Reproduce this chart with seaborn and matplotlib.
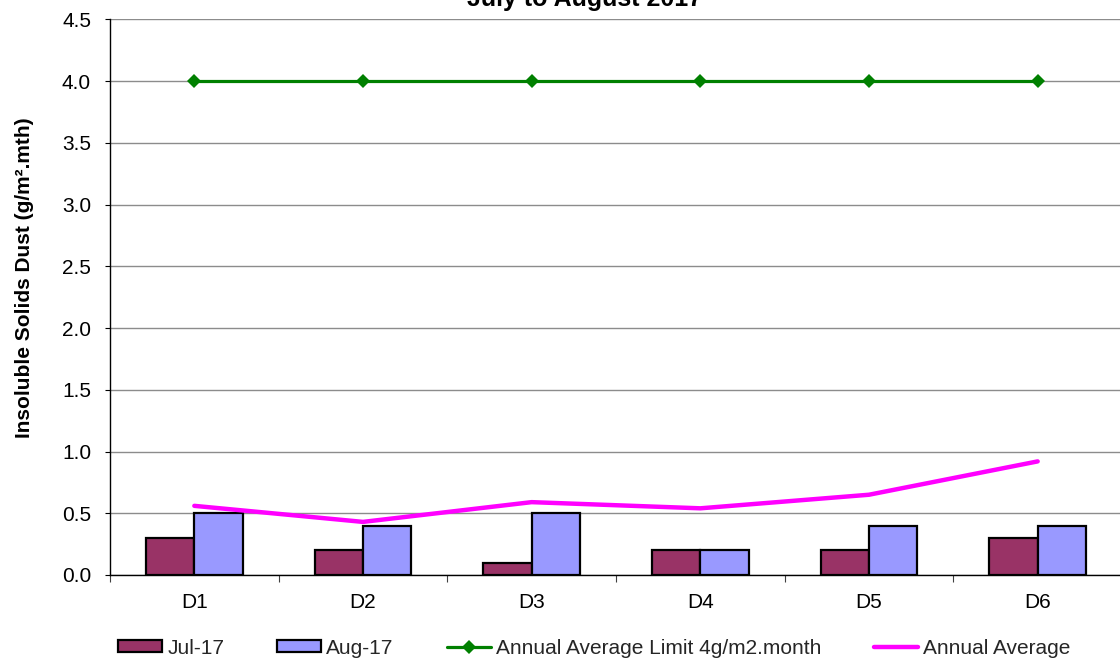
import matplotlib
matplotlib.use("Agg")
import matplotlib.pyplot as plt
import matplotlib.ticker as mticker
import seaborn as sns
import pandas as pd

sites = ["D1", "D2", "D3", "D4", "D5", "D6"]
jul_17 = [0.3, 0.2, 0.1, 0.2, 0.2, 0.3]
aug_17 = [0.5, 0.4, 0.5, 0.2, 0.4, 0.4]
limit = [4.0, 4.0, 4.0, 4.0, 4.0, 4.0]
annual_avg = [0.56, 0.43, 0.59, 0.54, 0.65, 0.92]
months = ["Jul-17", "Aug-17"]
title = "July to August 2017"
ylabel = "Insoluble Solids Dust (g/m\u00b2.mth)"
limit_label = "Annual Average Limit 4g/m2.month"
avg_label = "Annual Average"

sns.set_theme(style="white")
plt.rcParams["font.family"] = ["Liberation Sans", "DejaVu Sans"]

df = pd.DataFrame({
    "site": sites * 2,
    "value": jul_17 + aug_17,
    "month": [months[0]] * len(sites) + [months[1]] * len(sites),
})

fig = plt.figure(figsize=(11.2, 6.62), dpi=100)
ax = fig.add_axes([110 / 1120, 87 / 662, 1012 / 1120, 555.7 / 662])

sns.barplot(data=df, x="site", y="value", hue="month", order=sites, hue_order=months,
            palette=["#993366", "#9999FF"], saturation=1, width=0.573,
            edgecolor="black", linewidth=1.6, ax=ax, zorder=2)
sns.lineplot(x=sites, y=limit, color="#008000", marker="D", markersize=7.5,
             markeredgewidth=0, linewidth=2.3, label=limit_label, sort=False, ax=ax, zorder=3)
sns.lineplot(x=sites, y=annual_avg, color="#FF00FF", linewidth=3.2,
             label=avg_label, sort=False, ax=ax, zorder=3)

ax.set_xlim(-0.5, len(sites) - 0.5)
ax.set_ylim(0, 4.5)
ax.yaxis.set_major_locator(mticker.MultipleLocator(0.5))
ax.yaxis.set_major_formatter(mticker.FormatStrFormatter("%.1f"))
ax.set_axisbelow(True)
ax.yaxis.grid(True, color="#8c8c8c", linewidth=1.0)
ax.xaxis.grid(False)

for s in ["top", "right"]:
    ax.spines[s].set_visible(False)
for s in ["left", "bottom"]:
    ax.spines[s].set_color("black")
    ax.spines[s].set_linewidth(1.0)

ax.xaxis.set_minor_locator(mticker.FixedLocator([i - 0.5 for i in range(len(sites) + 1)]))
ax.tick_params(axis="x", which="major", length=0, pad=13, labelsize=15, colors="black")
ax.tick_params(axis="x", which="minor", bottom=True, direction="out", length=5, width=0.8, color="#404040")
ax.tick_params(axis="y", which="major", left=True, direction="out", length=3.6, width=0.8,
               pad=10, labelsize=15, colors="black")

ax.set_xlabel("")
ax.set_ylabel(ylabel, fontsize=15, fontweight="bold", color="black")
ax.yaxis.label.set_verticalalignment("center")
ax.yaxis.set_label_coords(-85 / 1012, (575 - 278) / 555.7)

fig.suptitle(title, x=585 / 1120, y=1 - 6 / 662, va="baseline", ha="center",
             fontsize=18, fontweight="bold", color="black")

handles, labels = ax.get_legend_handles_labels()
if ax.get_legend() is not None:
    ax.get_legend().remove()
fig.legend(handles, labels, loc="center", bbox_to_anchor=(594.5 / 1120, 1 - 648 / 662),
           ncol=4, frameon=False, fontsize=15, handlelength=2.1, handleheight=0.5,
           handletextpad=0.25, columnspacing=2.55, borderpad=0, borderaxespad=0)

fig.savefig("out.png", dpi=100)
